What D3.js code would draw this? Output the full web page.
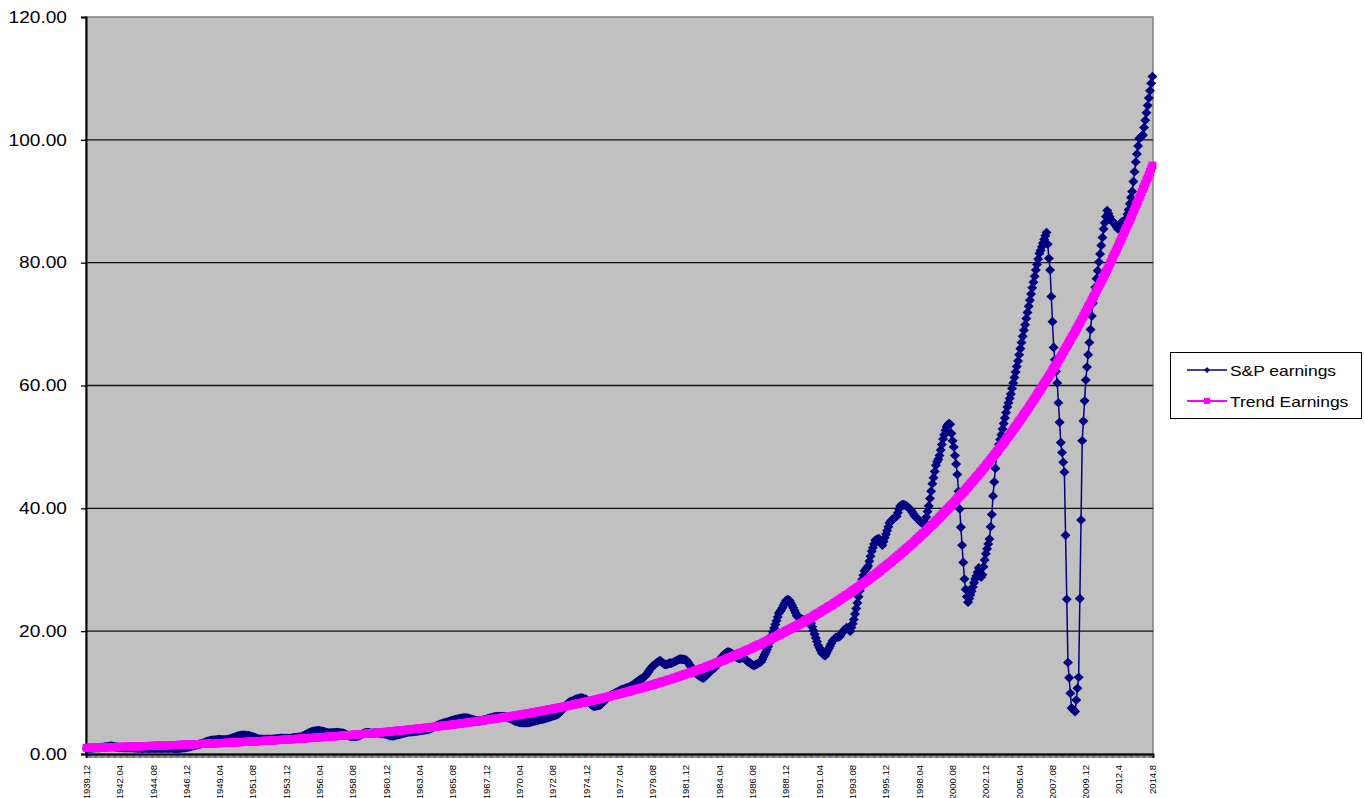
<!DOCTYPE html>
<html>
<head>
<meta charset="utf-8">
<script src="https://cdn.jsdelivr.net/npm/d3@7"></script>
<style>
body { margin: 0; background: #fff; }
svg { display: block; font-family: "Liberation Sans", Arial, sans-serif; }
</style>
</head>
<body>
<svg width="1364" height="798"></svg>
<script>
// monthly values, first point 1939.12, then one line per calendar year
var spEarnings = [0.9,
  0.92,0.93,0.95,0.96,0.98,0.99,1.0,1.01,1.02,1.03,1.04,1.05,
  1.08,1.1,1.13,1.16,1.19,1.22,1.26,1.3,1.28,1.24,1.2,1.16,
  1.14,1.12,1.1,1.08,1.06,1.05,1.04,1.03,1.03,1.03,1.03,1.03,
  1.02,1.01,1.0,0.99,0.98,0.97,0.96,0.96,0.95,0.95,0.94,0.94,
  0.94,0.94,0.93,0.93,0.93,0.93,0.93,0.93,0.93,0.93,0.93,0.93,
  0.93,0.93,0.93,0.94,0.94,0.94,0.95,0.95,0.95,0.95,0.96,0.96,
  0.94,0.92,0.9,0.9,0.9,0.91,0.94,0.97,1.0,1.02,1.04,1.06,
  1.1,1.15,1.2,1.25,1.3,1.35,1.4,1.45,1.5,1.55,1.6,1.65,
  1.72,1.8,1.88,1.95,2.02,2.08,2.13,2.18,2.22,2.25,2.27,2.29,
  2.31,2.33,2.35,2.35,2.34,2.33,2.32,2.32,2.33,2.35,2.38,2.42,
  2.48,2.55,2.62,2.7,2.78,2.86,2.93,2.98,3.02,3.04,3.05,3.05,
  3.05,3.04,3.02,3.0,2.96,2.9,2.84,2.77,2.7,2.62,2.55,2.48,
  2.44,2.42,2.4,2.4,2.4,2.4,2.4,2.4,2.4,2.4,2.4,2.4,
  2.42,2.44,2.46,2.48,2.5,2.52,2.54,2.55,2.55,2.54,2.52,2.51,
  2.52,2.53,2.55,2.57,2.6,2.63,2.66,2.69,2.72,2.74,2.76,2.77,
  2.85,2.95,3.05,3.15,3.25,3.35,3.44,3.52,3.6,3.65,3.7,3.74,
  3.77,3.79,3.8,3.78,3.75,3.7,3.65,3.6,3.55,3.5,3.45,3.41,
  3.42,3.44,3.46,3.48,3.5,3.5,3.5,3.48,3.46,3.43,3.4,3.37,
  3.3,3.2,3.1,3.0,2.92,2.86,2.84,2.84,2.85,2.86,2.88,2.89,
  2.98,3.08,3.18,3.28,3.38,3.46,3.5,3.5,3.48,3.45,3.42,3.39,
  3.4,3.42,3.44,3.44,3.42,3.4,3.37,3.34,3.31,3.28,3.25,3.22,
  3.15,3.08,3.0,2.96,2.95,2.96,3.0,3.05,3.1,3.15,3.2,3.25,
  3.3,3.35,3.4,3.45,3.5,3.55,3.58,3.6,3.62,3.64,3.66,3.67,
  3.7,3.73,3.76,3.79,3.82,3.85,3.88,3.91,3.94,3.97,4.0,4.02,
  4.1,4.2,4.3,4.4,4.5,4.6,4.68,4.76,4.84,4.9,4.96,5.02,
  5.08,5.14,5.2,5.26,5.32,5.38,5.44,5.5,5.55,5.6,5.65,5.7,
  5.74,5.78,5.82,5.85,5.87,5.88,5.88,5.86,5.82,5.76,5.7,5.64,
  5.58,5.52,5.46,5.42,5.4,5.4,5.42,5.45,5.5,5.55,5.6,5.66,
  5.72,5.78,5.84,5.9,5.95,6.0,6.04,6.07,6.09,6.1,6.1,6.1,
  6.1,6.1,6.08,6.05,6.0,5.94,5.86,5.78,5.7,5.6,5.5,5.4,
  5.32,5.25,5.2,5.15,5.12,5.1,5.08,5.08,5.08,5.1,5.11,5.13,
  5.18,5.23,5.28,5.33,5.38,5.43,5.48,5.53,5.58,5.62,5.66,5.7,
  5.76,5.82,5.88,5.94,6.0,6.06,6.12,6.18,6.24,6.3,6.36,6.42,
  6.6,6.8,7.0,7.25,7.5,7.75,7.95,8.15,8.35,8.45,8.55,8.6,
  8.7,8.8,8.9,8.95,9.0,9.05,9.1,9.1,9.1,9.0,8.95,8.9,
  8.7,8.5,8.3,8.1,7.9,7.8,7.8,7.8,7.85,7.9,7.95,8.0,
  8.2,8.4,8.6,8.8,9.0,9.2,9.35,9.5,9.6,9.7,9.8,9.9,
  10.0,10.1,10.2,10.3,10.4,10.5,10.55,10.6,10.7,10.75,10.8,10.9,
  11.0,11.1,11.2,11.35,11.5,11.65,11.8,11.95,12.1,12.2,12.3,12.4,
  12.6,12.8,13.0,13.3,13.6,13.9,14.1,14.3,14.5,14.65,14.8,14.9,
  15.1,15.2,15.1,14.9,14.7,14.6,14.6,14.6,14.7,14.8,14.8,14.8,
  14.9,15.0,15.1,15.2,15.3,15.4,15.45,15.45,15.4,15.4,15.35,15.3,
  15.1,14.8,14.5,14.2,13.9,13.6,13.4,13.2,13.0,12.9,12.7,12.6,
  12.5,12.4,12.4,12.6,12.8,13.0,13.2,13.4,13.6,13.8,13.9,14.0,
  14.3,14.6,14.9,15.2,15.5,15.8,16.0,16.2,16.4,16.5,16.6,16.6,
  16.5,16.4,16.3,16.2,16.0,15.8,15.7,15.6,15.5,15.6,15.7,15.7,
  15.6,15.4,15.2,15.0,14.9,14.8,14.6,14.5,14.4,14.5,14.6,14.7,
  14.8,14.9,15.0,15.4,15.8,16.2,16.6,17.0,17.5,18.1,18.7,19.3,
  19.9,20.5,21.1,21.7,22.3,22.9,23.2,23.5,23.8,24.2,24.6,25.0,
  25.1,25.1,25.0,24.6,24.2,23.8,23.4,23.0,22.5,22.3,22.2,22.1,
  22.0,21.9,21.8,21.7,21.6,21.5,21.4,21.4,21.3,20.7,20.1,19.5,
  18.9,18.3,17.7,17.3,16.9,16.5,16.3,16.1,16.0,16.4,16.8,17.2,
  17.6,18.0,18.4,18.6,18.8,19.0,19.0,19.1,19.1,19.4,19.7,20.0,
  20.2,20.4,20.6,20.4,20.2,20.0,20.6,21.2,21.9,22.8,23.7,24.6,
  25.6,26.6,27.6,28.4,29.1,29.8,30.1,30.3,30.6,31.4,32.2,33.0,
  33.6,34.2,34.8,34.9,35.0,35.1,34.7,34.3,34.0,34.6,35.2,35.8,
  36.4,37.0,37.6,37.9,38.1,38.3,38.4,38.6,38.7,39.3,39.9,40.4,
  40.5,40.6,40.6,40.5,40.4,40.3,40.1,39.9,39.7,39.4,39.1,38.8,
  38.6,38.4,38.2,38.0,37.8,37.6,37.6,37.7,37.7,38.6,39.5,40.4,
  41.6,42.8,44.0,45.0,46.0,47.0,47.6,48.0,48.6,49.5,50.4,51.3,
  52.0,52.7,53.3,53.6,53.8,53.7,52.2,51.0,50.0,48.6,47.2,45.5,
  42.8,39.9,36.9,34.0,31.2,28.5,26.8,25.6,24.7,25.3,25.9,26.5,
  27.2,27.9,28.5,29.0,29.6,30.3,29.5,28.8,29.2,30.5,31.6,32.6,
  33.4,34.2,35.0,37.0,39.0,42.0,44.3,46.5,48.8,49.6,50.4,51.2,
  52.0,52.9,53.8,54.7,55.6,56.5,57.2,57.9,58.6,59.5,60.4,61.3,
  62.2,63.1,64.0,65.0,66.0,67.0,68.0,69.0,69.9,70.9,71.9,72.9,
  73.9,74.9,75.9,76.8,77.8,78.8,79.7,80.6,81.5,82.0,82.6,83.2,
  83.8,84.4,84.9,83.0,80.7,78.8,74.5,70.4,66.2,64.2,62.3,60.4,
  57.2,54.0,50.7,49.1,47.5,45.9,35.6,25.2,14.9,12.4,9.9,7.5,
  7.3,7.1,6.9,8.8,10.7,12.5,25.3,38.1,51.0,54.2,57.5,60.9,
  63.0,65.0,67.0,69.1,71.3,73.4,74.7,76.0,77.4,78.7,80.1,81.4,
  82.8,84.1,85.5,86.5,87.5,88.5,88.0,87.5,87.0,86.8,86.6,86.4,
  86.1,85.8,85.5,85.9,86.3,86.6,86.6,86.5,86.5,87.2,87.9,88.6,
  89.6,90.6,91.6,93.2,94.8,96.4,97.7,99.0,100.2,100.4,100.6,100.8,
  102.0,103.2,104.4,105.6,106.8,108.0,109.2,110.3];

var trendEarnings = [1.0,
  1.01,1.01,1.02,1.02,1.03,1.03,1.04,1.04,1.05,1.05,1.06,1.06,
  1.07,1.07,1.08,1.09,1.09,1.10,1.10,1.11,1.11,1.12,1.12,1.13,
  1.14,1.14,1.15,1.15,1.16,1.17,1.17,1.18,1.18,1.19,1.20,1.20,
  1.21,1.21,1.22,1.23,1.23,1.24,1.25,1.25,1.26,1.26,1.27,1.28,
  1.28,1.29,1.30,1.30,1.31,1.32,1.32,1.33,1.34,1.34,1.35,1.36,
  1.36,1.37,1.38,1.39,1.39,1.40,1.41,1.41,1.42,1.43,1.44,1.44,
  1.45,1.46,1.47,1.47,1.48,1.49,1.50,1.50,1.51,1.52,1.53,1.53,
  1.54,1.55,1.56,1.57,1.57,1.58,1.59,1.60,1.61,1.61,1.62,1.63,
  1.64,1.65,1.66,1.66,1.67,1.68,1.69,1.70,1.71,1.72,1.72,1.73,
  1.74,1.75,1.76,1.77,1.78,1.79,1.80,1.81,1.81,1.82,1.83,1.84,
  1.85,1.86,1.87,1.88,1.89,1.90,1.91,1.92,1.93,1.94,1.95,1.96,
  1.97,1.98,1.99,2.00,2.01,2.02,2.03,2.04,2.05,2.06,2.07,2.08,
  2.09,2.10,2.11,2.13,2.14,2.15,2.16,2.17,2.18,2.19,2.20,2.21,
  2.22,2.24,2.25,2.26,2.27,2.28,2.29,2.31,2.32,2.33,2.34,2.35,
  2.36,2.38,2.39,2.40,2.41,2.43,2.44,2.45,2.46,2.48,2.49,2.50,
  2.51,2.53,2.54,2.55,2.57,2.58,2.59,2.61,2.62,2.63,2.65,2.66,
  2.67,2.69,2.70,2.71,2.73,2.74,2.76,2.77,2.78,2.80,2.81,2.83,
  2.84,2.86,2.87,2.88,2.90,2.91,2.93,2.94,2.96,2.97,2.99,3.00,
  3.02,3.03,3.05,3.07,3.08,3.10,3.11,3.13,3.15,3.16,3.18,3.19,
  3.21,3.23,3.24,3.26,3.28,3.29,3.31,3.33,3.34,3.36,3.38,3.39,
  3.41,3.43,3.45,3.46,3.48,3.50,3.52,3.54,3.55,3.57,3.59,3.61,
  3.63,3.65,3.66,3.68,3.70,3.72,3.74,3.76,3.78,3.80,3.82,3.84,
  3.86,3.87,3.89,3.91,3.93,3.95,3.97,4.00,4.02,4.04,4.06,4.08,
  4.10,4.12,4.14,4.16,4.18,4.20,4.23,4.25,4.27,4.29,4.31,4.33,
  4.36,4.38,4.40,4.42,4.45,4.47,4.49,4.51,4.54,4.56,4.58,4.61,
  4.63,4.65,4.68,4.70,4.73,4.75,4.77,4.80,4.82,4.85,4.87,4.90,
  4.92,4.95,4.97,5.00,5.02,5.05,5.08,5.10,5.13,5.15,5.18,5.21,
  5.23,5.26,5.29,5.31,5.34,5.37,5.40,5.42,5.45,5.48,5.51,5.53,
  5.56,5.59,5.62,5.65,5.68,5.71,5.74,5.76,5.79,5.82,5.85,5.88,
  5.91,5.94,5.97,6.00,6.03,6.07,6.10,6.13,6.16,6.19,6.22,6.25,
  6.29,6.32,6.35,6.38,6.41,6.45,6.48,6.51,6.55,6.58,6.61,6.65,
  6.68,6.72,6.75,6.78,6.82,6.85,6.89,6.92,6.96,6.99,7.03,7.07,
  7.10,7.14,7.18,7.21,7.25,7.29,7.32,7.36,7.40,7.44,7.47,7.51,
  7.55,7.59,7.63,7.67,7.71,7.74,7.78,7.82,7.86,7.90,7.94,7.98,
  8.03,8.07,8.11,8.15,8.19,8.23,8.27,8.32,8.36,8.40,8.44,8.49,
  8.53,8.57,8.62,8.66,8.71,8.75,8.80,8.84,8.89,8.93,8.98,9.02,
  9.07,9.11,9.16,9.21,9.26,9.30,9.35,9.40,9.45,9.49,9.54,9.59,
  9.64,9.69,9.74,9.79,9.84,9.89,9.94,9.99,10.04,10.09,10.14,10.19,
  10.2,10.3,10.4,10.4,10.5,10.5,10.6,10.6,10.7,10.7,10.8,10.8,
  10.9,10.9,11.0,11.1,11.1,11.2,11.2,11.3,11.3,11.4,11.5,11.5,
  11.6,11.6,11.7,11.8,11.8,11.9,11.9,12.0,12.1,12.1,12.2,12.2,
  12.3,12.4,12.4,12.5,12.6,12.6,12.7,12.8,12.8,12.9,13.0,13.0,
  13.1,13.1,13.2,13.3,13.4,13.4,13.5,13.6,13.6,13.7,13.8,13.8,
  13.9,14.0,14.0,14.1,14.2,14.3,14.3,14.4,14.5,14.6,14.6,14.7,
  14.8,14.9,14.9,15.0,15.1,15.2,15.2,15.3,15.4,15.5,15.6,15.6,
  15.7,15.8,15.9,16.0,16.0,16.1,16.2,16.3,16.4,16.5,16.5,16.6,
  16.7,16.8,16.9,17.0,17.0,17.1,17.2,17.3,17.4,17.5,17.6,17.7,
  17.8,17.8,17.9,18.0,18.1,18.2,18.3,18.4,18.5,18.6,18.7,18.8,
  18.9,19.0,19.1,19.2,19.3,19.4,19.5,19.6,19.7,19.8,19.9,20.0,
  20.1,20.2,20.3,20.4,20.5,20.6,20.7,20.8,20.9,21.0,21.1,21.2,
  21.3,21.4,21.5,21.7,21.8,21.9,22.0,22.1,22.2,22.3,22.4,22.6,
  22.7,22.8,22.9,23.0,23.1,23.3,23.4,23.5,23.6,23.7,23.9,24.0,
  24.1,24.2,24.3,24.5,24.6,24.7,24.8,25.0,25.1,25.2,25.4,25.5,
  25.6,25.8,25.9,26.0,26.1,26.3,26.4,26.6,26.7,26.8,27.0,27.1,
  27.2,27.4,27.5,27.7,27.8,27.9,28.1,28.2,28.4,28.5,28.7,28.8,
  29.0,29.1,29.2,29.4,29.5,29.7,29.8,30.0,30.2,30.3,30.5,30.6,
  30.8,30.9,31.1,31.2,31.4,31.6,31.7,31.9,32.1,32.2,32.4,32.5,
  32.7,32.9,33.0,33.2,33.4,33.6,33.7,33.9,34.1,34.2,34.4,34.6,
  34.8,35.0,35.1,35.3,35.5,35.7,35.9,36.0,36.2,36.4,36.6,36.8,
  37.0,37.2,37.3,37.5,37.7,37.9,38.1,38.3,38.5,38.7,38.9,39.1,
  39.3,39.5,39.7,39.9,40.1,40.3,40.5,40.7,40.9,41.1,41.3,41.6,
  41.8,42.0,42.2,42.4,42.6,42.8,43.1,43.3,43.5,43.7,44.0,44.2,
  44.4,44.6,44.9,45.1,45.3,45.5,45.8,46.0,46.2,46.5,46.7,47.0,
  47.2,47.4,47.7,47.9,48.2,48.4,48.7,48.9,49.2,49.4,49.7,49.9,
  50.2,50.4,50.7,50.9,51.2,51.5,51.7,52.0,52.3,52.5,52.8,53.1,
  53.3,53.6,53.9,54.2,54.4,54.7,55.0,55.3,55.6,55.8,56.1,56.4,
  56.7,57.0,57.3,57.6,57.9,58.2,58.5,58.8,59.1,59.4,59.7,60.0,
  60.3,60.6,60.9,61.2,61.5,61.8,62.1,62.5,62.8,63.1,63.4,63.7,
  64.1,64.4,64.7,65.0,65.4,65.7,66.1,66.4,66.7,67.1,67.4,67.8,
  68.1,68.4,68.8,69.1,69.5,69.9,70.2,70.6,70.9,71.3,71.7,72.0,
  72.4,72.8,73.1,73.5,73.9,74.3,74.6,75.0,75.4,75.8,76.2,76.6,
  76.9,77.3,77.7,78.1,78.5,78.9,79.3,79.7,80.1,80.6,81.0,81.4,
  81.8,82.2,82.6,83.1,83.5,83.9,84.3,84.8,85.2,85.6,86.1,86.5,
  86.9,87.4,87.8,88.3,88.7,89.2,89.6,90.1,90.6,91.0,91.5,92.0,
  92.4,92.9,93.4,93.8,94.3,94.8,95.3,95.8];

var startYear = 1939, startMonth = 12;
var yTicks = [0, 20, 40, 60, 80, 100, 120];
var tickLabels = ["1939.12", "1942.04", "1944.08", "1946.12", "1949.04", "1951.08", "1953.12",
  "1956.04", "1958.08", "1960.12", "1963.04", "1965.08", "1967.12", "1970.04", "1972.08",
  "1974.12", "1977.04", "1979.08", "1981.12", "1984.04", "1986.08", "1988.12", "1991.04",
  "1993.08", "1995.12", "1998.04", "2000.08", "2002.12", "2005.04", "2007.08", "2009.12",
  "2012.4", "2014.8"];
var seriesNames = ["S&P earnings", "Trend Earnings"];
var seriesColors = ["#000080", "#ff00ff"];

// one category per month, labelled like the sheet ("1942.04", later "2012.4")
var months = spEarnings.map(function (d, i) {
    var m = startMonth - 1 + i;
    var yr = startYear + Math.floor(m / 12), mo = m % 12 + 1;
    if (yr >= 2010) return yr + "." + mo;
    return yr + "." + (mo < 10 ? "0" + mo : mo);
});

var svg = d3.select("svg"),
    plotLeft = 86, plotRight = 1153, plotTop = 17, plotBottom = 754,
    stretch = 1.16;

svg.append("rect").attr("width", 1364).attr("height", 798).attr("fill", "#fff");

var x = d3.scalePoint()
    .domain(months)
    .range([plotLeft, plotRight])
    .padding(0.5);

var y = d3.scaleLinear()
    .domain([0, 120])
    .range([plotBottom, plotTop]);

// plot area
svg.append("rect")
    .attr("x", plotLeft).attr("y", plotTop)
    .attr("width", plotRight - plotLeft).attr("height", plotBottom - plotTop)
    .attr("fill", "#c0c0c0")
    .attr("stroke", "#808080")
    .attr("stroke-width", 1.5);

// horizontal gridlines
svg.append("g").selectAll("line")
    .data(yTicks.filter(function (d) { return d > 0 && d < 120; }))
    .enter().append("line")
    .attr("x1", plotLeft).attr("x2", plotRight)
    .attr("y1", function (d) { return y(d); })
    .attr("y2", function (d) { return y(d); })
    .attr("stroke", "#111")
    .attr("stroke-width", 1.3);

// y axis
var axisY = svg.append("g")
    .attr("transform", "translate(" + plotLeft + ",0)")
    .call(d3.axisLeft(y).tickValues(yTicks).tickSize(5).tickFormat(d3.format(".2f")));
axisY.select(".domain").attr("stroke", "#000").attr("stroke-width", 2);
axisY.selectAll(".tick line").attr("stroke", "#000").attr("stroke-width", 1.3);
axisY.selectAll(".tick text")
    .attr("x", -19 / stretch)
    .attr("transform", "scale(" + stretch + ",1)")
    .attr("font-family", "Liberation Sans, Arial, sans-serif")
    .attr("font-size", 16.5)
    .attr("fill", "#000");

// x axis: a small tick for every month, labels every 28 months
var axisX = svg.append("g")
    .attr("transform", "translate(0," + plotBottom + ")")
    .call(d3.axisBottom(x).tickSize(4).tickFormat(""));
axisX.select(".domain").attr("stroke", "#000").attr("stroke-width", 2);
axisX.selectAll(".tick line").attr("stroke", "#000").attr("stroke-width", 0.6);

svg.append("g").selectAll("text")
    .data(tickLabels)
    .enter().append("text")
    .attr("transform", function (d) { return "translate(" + x(d) + ",765) rotate(-90)"; })
    .attr("text-anchor", "end")
    .attr("dy", "0.35em")
    .attr("font-size", 9.5)
    .attr("fill", "#000")
    .text(function (d) { return d; });

// series
var line = d3.line()
    .x(function (d, i) { return x(months[i]); })
    .y(function (d) { return y(d); });

var diamond = "M0,-4.8L5,0L0,4.8L-5,0Z",
    square = "M-4,-4h8v8h-8Z";

var series = [
    { values: spEarnings, color: seriesColors[0], width: 1.5, marker: diamond },
    { values: trendEarnings, color: seriesColors[1], width: 3, marker: square }
];

series.forEach(function (s) {
    var g = svg.append("g");
    g.append("path")
        .datum(s.values)
        .attr("fill", "none")
        .attr("stroke", s.color)
        .attr("stroke-width", s.width)
        .attr("d", line);
    g.selectAll(".mk")
        .data(s.values)
        .enter().append("path")
        .attr("class", "mk")
        .attr("d", s.marker)
        .attr("fill", s.color)
        .attr("transform", function (d, i) { return "translate(" + x(months[i]) + "," + y(d) + ")"; });
});

// legend
var legend = svg.append("g");
legend.append("rect")
    .attr("x", 1170.5).attr("y", 352.5)
    .attr("width", 191).attr("height", 66)
    .attr("fill", "#fff")
    .attr("stroke", "#000");

var item = legend.selectAll(".item")
    .data(seriesNames)
    .enter().append("g")
    .attr("class", "item")
    .attr("transform", function (d, i) { return "translate(0," + (370 + i * 31) + ")"; });

item.append("line")
    .attr("x1", 1187).attr("x2", 1227)
    .attr("stroke", function (d, i) { return seriesColors[i]; })
    .attr("stroke-width", function (d, i) { return i ? 2 : 1.5; });

item.append("path")
    .attr("d", function (d, i) { return i ? "M-3,-3h6v6h-6Z" : "M0,-3L3,0L0,3L-3,0Z"; })
    .attr("transform", "translate(1207,0)")
    .attr("fill", function (d, i) { return seriesColors[i]; });

item.append("text")
    .attr("transform", "translate(1230,6) scale(" + stretch + ",1)")
    .attr("font-size", 15)
    .attr("fill", "#000")
    .text(function (d) { return d; });
</script>
</body>
</html>
